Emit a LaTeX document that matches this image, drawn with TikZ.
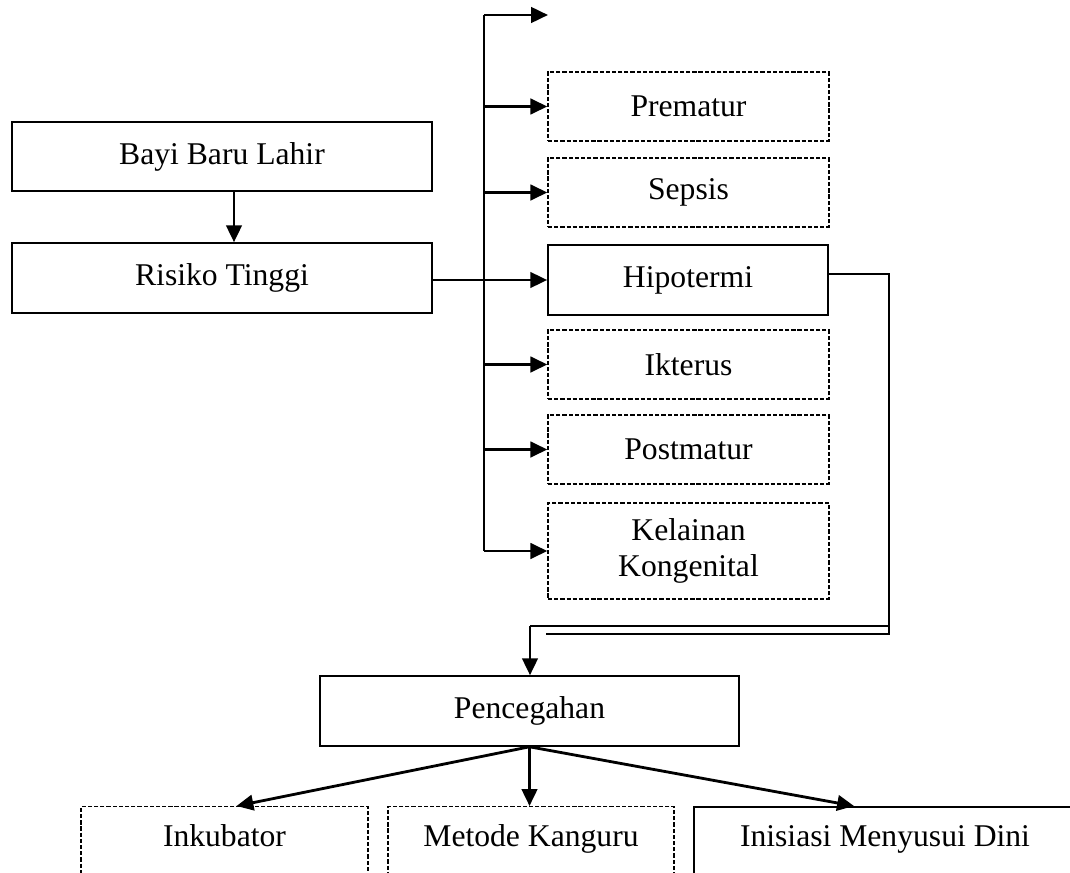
\documentclass[tikz,border=0pt]{standalone}
\usepackage{fontspec}
\setmainfont{Liberation Serif}
\usetikzlibrary{positioning,arrows.meta,calc}
\tikzset{
  box/.style      = {shape=rectangle, draw, line width=1.1pt, align=center,
                     inner sep=0pt, font=\fontsize{22.5}{26}\selectfont},
  dbox/.style     = {box, line width=0.9pt, dash pattern=on 3pt off 1.4pt},
  lowbox/.style   = {anchor=north, text height=28pt, text depth=60pt},
  arr/.style      = {draw, line width=2pt, -{Triangle[length=12pt,width=11pt]}},
  spine/.style    = {draw, line width=0.9pt},
}
\begin{document}
\begin{tikzpicture}[x=0.025cm, y=-0.025cm]
    \useasboundingbox (0,0) rectangle (1070,873);
    \clip (0,0) rectangle (1070,873);
    \node [box, minimum width=10.5cm, minimum height=1.725cm] (bayi) at (222,156.5) {Bayi Baru Lahir};
    \node [box, minimum width=10.5cm, minimum height=1.75cm] (risiko) at (222,278) {Risiko Tinggi};
    \node [dbox, minimum width=7.025cm, minimum height=1.725cm] (prematur) at (688.5,106.5) {Prematur};
    \node [dbox, minimum width=7.025cm, minimum height=1.725cm] (sepsis) at (688.5,192.5) {Sepsis};
    \node [box, minimum width=7cm, minimum height=1.75cm] (hipotermi) at (688,280) {Hipotermi};
    \node [dbox, minimum width=7.025cm, minimum height=1.725cm] (ikterus) at (688.5,364.5) {Ikterus};
    \node [dbox, minimum width=7.025cm, minimum height=1.725cm] (postmatur) at (688.5,449.5) {Postmatur};
    \node [dbox, minimum width=7.025cm, minimum height=2.4cm] (kelainan) at (688.5,551) {Kelainan\\Kongenital};
    \node [box, minimum width=10.475cm, minimum height=1.75cm] (pencegahan) at (529.5,711) {Pencegahan};
    \node [dbox, lowbox, minimum width=7.175cm] (inkubator) at (224.5,806) {Inkubator};
    \node [dbox, lowbox, minimum width=7.15cm] (kanguru) at (531,806) {Metode Kanguru};
    \node [box, lowbox, minimum width=9.55cm] (imd) at (885,806) {Inisiasi Menyusui Dini};

    \coordinate (top) at (484,15);
    \coordinate (topend) at (548,15);
    \coordinate (r1) at (889,274);
    \coordinate (r2) at (889,634);
    \coordinate (r3) at (546,634);
    \coordinate (l1) at (530,626);
    \coordinate (l2) at (889,626);

    \draw [arr] (bayi.south -| 234,0) -- (risiko.north -| 234,0);
    \draw [spine] (top) -- (top |- kelainan.west);
    \draw [arr] (top) -- (topend);
    \foreach \n in {prematur,sepsis,ikterus,postmatur,kelainan}
        \draw [arr] (top |- \n.west) -- (\n.west);
    \draw [arr] (risiko.east |- hipotermi.west) -- (hipotermi.west);

    \draw [spine] (hipotermi.east |- r1) -- (r1) -- (r1 |- hipotermi.south);
    \draw [line width=1.6pt] (r1 |- hipotermi.south) -- (r2) -- (r3);
    \draw [spine] (l1) -- (l2);
    \draw [arr] (l1) -- (l1 |- pencegahan.north);

    \draw [arr] (pencegahan.south) -- ($(inkubator.north)+(12,0)$);
    \draw [arr] (pencegahan.south) -- (pencegahan.south |- kanguru.north);
    \draw [arr] (pencegahan.south) -- ($(imd.north)+(-31,0)$);
\end{tikzpicture}
\end{document}
